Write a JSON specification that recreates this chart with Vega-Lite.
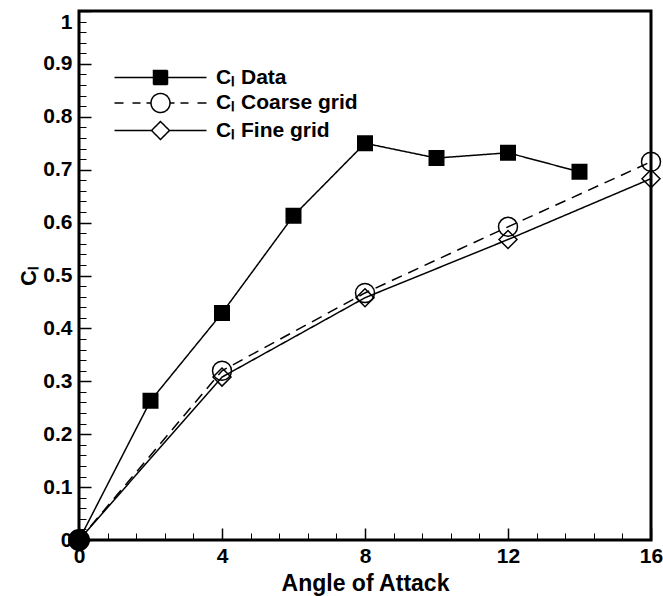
{
  "$schema": "https://vega.github.io/schema/vega-lite/v6.json",
  "width": 572,
  "height": 529,
  "autosize": "none",
  "padding": {"left": 79, "top": 11, "right": 12, "bottom": 56},
  "background": "white",
  "config": {"view": {"stroke": "black", "strokeWidth": 3}, "font": "Liberation Sans"},
  "data": {"values": [
    {"series": "Data", "angle": 0, "cl": 0},
    {"series": "Data", "angle": 2, "cl": 0.263},
    {"series": "Data", "angle": 4, "cl": 0.429},
    {"series": "Data", "angle": 6, "cl": 0.613},
    {"series": "Data", "angle": 8, "cl": 0.75},
    {"series": "Data", "angle": 10, "cl": 0.722},
    {"series": "Data", "angle": 12, "cl": 0.732},
    {"series": "Data", "angle": 14, "cl": 0.696},
    {"series": "Coarse grid", "angle": 0, "cl": 0},
    {"series": "Coarse grid", "angle": 4, "cl": 0.32},
    {"series": "Coarse grid", "angle": 8, "cl": 0.467},
    {"series": "Coarse grid", "angle": 12, "cl": 0.592},
    {"series": "Coarse grid", "angle": 16, "cl": 0.715},
    {"series": "Fine grid", "angle": 0, "cl": 0},
    {"series": "Fine grid", "angle": 4, "cl": 0.308},
    {"series": "Fine grid", "angle": 8, "cl": 0.458},
    {"series": "Fine grid", "angle": 12, "cl": 0.568},
    {"series": "Fine grid", "angle": 16, "cl": 0.683}
  ]},
  "encoding": {
    "x": {"field": "angle", "type": "quantitative", "scale": {"domain": [0, 16], "nice": false},
      "axis": {"orient": "bottom", "zindex": 1,
        "values": [0, 0.8, 1.6, 2.4, 3.2, 4, 4.8, 5.6, 6.4, 7.2, 8, 8.8, 9.6, 10.4, 11.2, 12, 12.8, 13.6, 14.4, 15.2, 16],
        "labelExpr": "datum.value % 4 === 0 ? datum.label : ''",
        "ticks": true, "tickColor": "black", "tickOpacity": 1,
        "tickSize": {"condition": {"test": "datum.value % 4 === 0", "value": -12}, "value": -7},
        "tickWidth": {"condition": {"test": "datum.value % 4 === 0", "value": 1.5}, "value": 1},
        "domain": false, "grid": false, "labelFont": "Liberation Sans", "labelFontWeight": "bold", "labelFontSize": 21,
        "labelColor": "black", "labelPadding": 17, "labelFlush": false, "labelOverlap": false,
        "title": "Angle of Attack", "titleFont": "Liberation Sans", "titleFontSize": 23, "titleFontWeight": "bold",
        "titleColor": "black", "titlePadding": 1}},
    "y": {"field": "cl", "type": "quantitative", "scale": {"domain": [0, 1], "nice": false},
      "axis": {"orient": "left", "zindex": 1,
        "values": [0, 0.02, 0.04, 0.06, 0.08, 0.1, 0.12, 0.14, 0.16, 0.18, 0.2, 0.22, 0.24, 0.26, 0.28, 0.3, 0.32, 0.34, 0.36, 0.38, 0.4, 0.42, 0.44, 0.46, 0.48, 0.5, 0.52, 0.54, 0.56, 0.58, 0.6, 0.62, 0.64, 0.66, 0.68, 0.7, 0.72, 0.74, 0.76, 0.78, 0.8, 0.82, 0.84, 0.86, 0.88, 0.9, 0.92, 0.94, 0.96, 0.98, 1],
        "labelExpr": "abs(datum.value * 10 - round(datum.value * 10)) < 0.000001 ? format(datum.value, '~g') : ''",
        "ticks": true, "tickColor": "black", "tickOpacity": 1,
        "tickSize": {"condition": {"test": "abs(datum.value * 10 - round(datum.value * 10)) < 0.000001", "value": -12}, "value": -7},
        "tickWidth": {"condition": {"test": "abs(datum.value * 10 - round(datum.value * 10)) < 0.000001", "value": 1.5}, "value": 1},
        "domain": false, "grid": false,
        "labelFont": "Liberation Sans", "labelFontWeight": "bold", "labelFontSize": 21, "labelColor": "black",
        "labelPadding": 19, "labelFlush": false, "labelOverlap": false,
        "labelBaseline": {"condition": {"test": "datum.value === 1", "value": "top"}, "value": "middle"},
        "title": "Cₗ", "titleFont": "Liberation Sans", "titleFontSize": 22, "titleFontWeight": "bold",
        "titleColor": "black", "titlePadding": 2}}
  },
  "layer": [
    {
      "mark": {"type": "line", "strokeWidth": 1.5},
      "encoding": {
        "strokeDash": {"condition": {"test": "datum.series === 'Coarse grid'", "value": [11, 7]}, "value": [1, 0]},
        "color": {"field": "series", "type": "nominal",
          "scale": {"domain": ["Data", "Coarse grid", "Fine grid"], "range": ["black", "black", "black"]},
          "legend": {"orient": "none", "legendX": 71, "legendY": 56, "title": null, "padding": 0,
            "symbolSize": 4, "symbolStrokeWidth": 1.5, "symbolStrokeColor": "black",
            "labelFont": "Liberation Sans", "labelFontSize": 21, "labelFontWeight": "bold", "labelColor": "black",
            "labelOffset": 45, "rowPadding": 2.5, "labelExpr": "'Cₗ ' + datum.label",
            "encode": {"symbols": {"update": {
              "shape": {"signal": "datum.value === 'Data' ? 'M-46,0H46M-7,-7H7V7H-7Z' : (datum.value === 'Coarse grid' ? 'M-46,0H-37M-28,0H-20M-14,0H-9.5M9.5,0A9.5,9.5 0 1,1 -9.5,0A9.5,9.5 0 1,1 9.5,0M9.5,0H14M20,0H28M37,0H46' : 'M-46,0H-9M9,0H46M0,-9L9,0L0,9L-9,0Z')"},
              "fill": {"signal": "datum.value === 'Data' ? 'black' : 'white'"},
              "stroke": {"value": "black"},
              "strokeDash": {"value": [1, 0]},
              "strokeWidth": {"value": 1.5}
            }}}}
        }
      }
    },
    {
      "transform": [{"filter": "datum.series === 'Data' && datum.angle > 0"}],
      "mark": {"type": "point", "shape": "square", "filled": true, "fill": "black", "stroke": "black", "size": 196, "opacity": 1}
    },
    {
      "transform": [{"filter": "datum.series === 'Data' && datum.angle === 0"}],
      "mark": {"type": "point", "shape": "circle", "filled": true, "fill": "black", "stroke": "black", "size": 400, "opacity": 1}
    },
    {
      "transform": [{"filter": "datum.series === 'Coarse grid' && datum.angle > 0"}],
      "mark": {"type": "point", "shape": "circle", "filled": false, "fill": "transparent", "stroke": "black", "strokeWidth": 1.5, "size": 361, "opacity": 1}
    },
    {
      "transform": [{"filter": "datum.series === 'Fine grid' && datum.angle > 0"}],
      "mark": {"type": "point", "shape": "diamond", "filled": false, "fill": "transparent", "stroke": "black", "strokeWidth": 1.5, "size": 324, "opacity": 1}
    }
  ]
}
